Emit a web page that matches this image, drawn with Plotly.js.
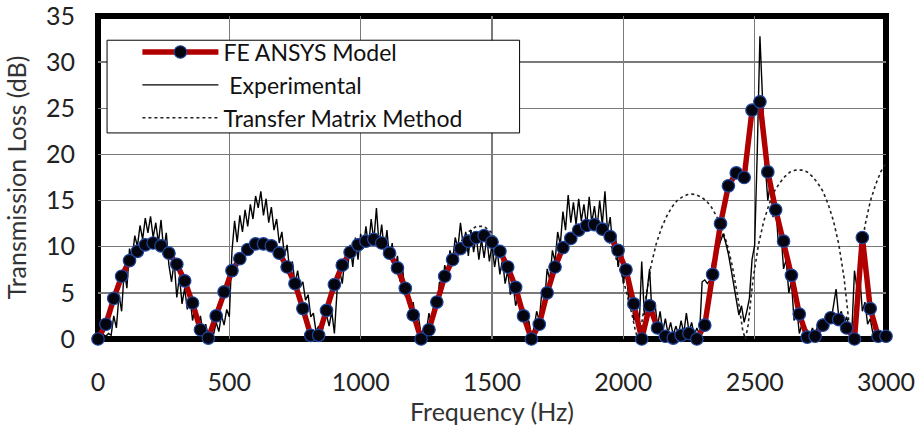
<!DOCTYPE html>
<html>
<head>
<meta charset="utf-8">
<script src="https://cdn.plot.ly/plotly-3.0.1.min.js"></script>
<style>html,body{margin:0;padding:0;background:#fff;}#chart{width:919px;height:436px;}</style>
</head>
<body>
<div id="chart"></div>
<script>
// FE ANSYS Model (Hz, dB)
var feFreq = [0,30,60,90,120,150,180,210,240,270,300,330,360,390,420,450,480,510,540,570,
  600,630,660,690,720,750,780,810,840,870,900,930,960,990,1020,1050,1080,1110,1140,1170,
  1200,1230,1260,1290,1320,1350,1380,1410,1440,1470,1500,1530,1560,1590,1620,1650,1680,1710,1740,1770,
  1800,1830,1860,1890,1920,1950,1980,2010,2040,2070,2100,2130,2160,2190,2220,2250,2280,2310,2340,2370,
  2400,2430,2460,2490,2520,2550,2580,2610,2640,2670,2700,2730,2760,2790,2820,2850,2880,2910,2940,2970,3000];
var feTL = [0,1.6,4.4,6.8,8.5,9.5,10.2,10.4,10.1,9.3,8.1,6.3,3.9,1.0,0.1,2.5,5.1,7.4,8.7,9.7,
  10.3,10.3,10.1,9.3,7.8,6.0,3.3,0.4,0.4,3.1,5.9,8.0,9.4,10.2,10.6,10.8,10.4,9.3,7.7,5.5,
  2.6,0,1.0,4.0,6.8,8.6,9.8,10.6,11.0,11.2,10.5,9.5,7.8,5.6,2.5,0,1.6,5.0,7.8,9.9,
  10.9,11.8,12.3,12.4,11.9,11.1,9.6,7.5,3.8,0,3.6,1.2,0.3,0.1,0.4,0.6,0,1.5,7.0,12.5,
  16.6,18.0,17.5,24.8,25.7,18.1,14.0,10.6,6.9,2.7,0.2,0.3,1.5,2.3,2.1,1.2,0,11.0,3.3,0.3,0.3];

// Experimental (every 10 Hz from 0 Hz)
var expStartHz = 0, expStepHz = 10;
var expTL = [0.2,0.3,0.5,0.3,0.6,0.4,2.5,1.2,4.8,3.0,7.5,5.5,9.8,8.6,11.2,10.0,12.3,10.8,13.1,11.5,
  13.3,11.0,12.6,10.4,12.9,9.6,11.5,8.0,6.2,8.4,4.5,6.8,3.8,5.5,3.2,4.6,2.0,3.6,1.2,2.5,
  0.6,1.6,0.3,1.0,0.5,
  1.8,0.8,2.6,1.5,3.2,2.4,9.5,12.8,10.5,13.4,11.6,14.0,12.2,14.6,13.0,15.5,14.2,16.0,13.4,15.2,
  12.6,14.3,11.8,13.0,10.4,11.6,9.0,10.2,7.2,8.4,6.0,7.4,5.6,6.2,4.2,4.8,2.4,2.8,0.8,1.4,0.4,1.8,
  2.6,1.4,3.0,0.6,5.2,7.4,6.0,8.8,7.6,10.2,7.8,11.0,8.6,11.4,9.8,12.2,10.0,13.0,10.6,14.2,
  10.2,12.4,9.4,11.8,8.6,10.4,7.4,9.0,6.2,7.6,4.6,5.8,3.0,4.0,1.6,2.4,0.5,1.2,
  0.8,2.8,1.6,4.2,3.4,6.2,5.0,8.0,7.0,9.6,8.4,11.0,9.8,12.6,10.2,11.6,9.0,11.8,9.4,11.2,
  8.6,10.8,8.8,11.0,8.4,10.2,7.8,9.6,7.0,8.6,6.0,7.4,4.8,6.0,3.6,4.6,2.4,3.4,1.2,2.0,0.4,1.2,
  3.0,2.0,5.2,4.0,7.6,6.4,9.6,8.4,11.6,10.2,13.8,11.8,15.6,12.6,14.8,12.4,15.2,12.8,14.6,12.2,
  15.4,12.6,14.4,12.0,15.0,12.4,16.0,11.6,13.2,9.8,11.4,7.8,9.6,6.0,7.8,4.4,5.6,2.0,3.2,1.0,
  8.4,2.6,4.8,7.6,2.2,4.0,1.4,3.0,0.8,2.2,0.6,1.8,0.4,1.4,0.5,2.0,0.6,2.8,0.8,1.8,
  0.4,1.2,0.5,6.2,6.4,6.0,6.4,8.4,8.0,9.6,10.6,11.4,10.4,9.2,7.6,6.0,4.4,2.6,3.6,1.8,3.0,
  4.4,8.6,10.2,20.4,32.8,26.0,19.0,15.0,17.0,13.2,14.6,10.4,11.6,7.6,8.6,5.0,6.2,2.0,3.4,0.6,
  1.6,0.3,1.0,0.4,1.2,0.3,1.5,0.8,2.2,1.4,2.8,1.8,3.6,5.4,2.4,3.0,1.6,2.4,1.2,0.8,
  7.4,5.4,6.8,3.0,4.0,1.6,2.2,0.6,1.0,0.4,0.6,0.3,0.4];

// Transfer Matrix Method (Hz, dB)
var tmmFreq = [0,30,60,90,120,150,180,210,240,270,300,330,360,390,420,450,480,510,540,570,
  600,630,660,690,720,750,780,810,840,870,900,930,960,990,1020,1050,1080,1110,1140,1170,
  1200,1230,1260,1290,1320,1350,1380,1410,1440,1470,1500,1530,1560,1590,1620,1650,1680,1710,1740,1770,
  1800,1830,1860,1890,1920,1950,1980,2000,2020,2035,2045,2055,
  2065,2075,2085,2105,2125,2145,2165,2185,2205,2225,2245,2260,2275,2295,2315,2335,2355,2375,2395,2415,2435,2445,2455,2465,
  2475,2485,2495,2515,2535,2555,2575,2595,2615,2635,2655,2680,2700,2720,2740,2760,2780,2800,2820,2840,2850,2860,2870,
  2880,2890,2900,2920,2940,2960,2980,3000];
var tmmTL = [0,1.7,4.6,7.0,8.6,9.6,10.2,10.4,10.2,9.5,8.2,6.4,4.0,1.2,0.2,2.6,5.2,7.4,8.8,9.8,
  10.3,10.4,10.1,9.3,7.9,6.0,3.4,0.6,0.6,3.2,6.0,8.1,9.5,10.3,10.7,10.8,10.4,9.4,7.8,5.6,
  2.7,0.1,1.2,4.2,7.0,9.0,10.5,11.6,12.2,12.2,11.5,10.0,8.0,5.6,2.4,0.2,1.9,5.2,8.0,10.0,
  11.3,12.2,12.6,12.5,11.7,10.3,8.2,6.4,4.2,2.4,1.0,0,
  0.85,2.7,4.7,7.9,10.3,12.0,13.3,14.3,15.0,15.4,15.65,15.7,15.65,15.4,15.0,14.3,13.3,12.0,10.3,7.9,4.7,2.7,0.85,0,
  1.5,4.2,6.7,10.3,12.8,14.6,16.0,16.9,17.6,18.1,18.3,18.3,18.1,17.6,16.9,16.0,14.6,12.8,10.3,6.7,4.2,1.5,0,
  2.2,5.6,8.4,12.3,14.9,16.7,18.1,19.1];

var xTicks = [0,500,1000,1500,2000,2500,3000];
var yTicks = [0,5,10,15,20,25,30,35];

var FONT = 'Lato, "Open Sans", sans-serif';

var traces = [
  {x: tmmFreq, y: tmmTL, type: 'scatter', mode: 'lines', name: 'Transfer Matrix Method',
   legendrank: 3, line: {color: '#222', width: 1.6, dash: '3px,3px'}},
  {x0: expStartHz, dx: expStepHz, y: expTL, type: 'scatter', mode: 'lines', name: ' Experimental',
   legendrank: 2, line: {color: '#000', width: 1.4}},
  {x: feFreq, y: feTL, type: 'scatter', mode: 'lines+markers', name: 'FE ANSYS Model',
   legendrank: 1, cliponaxis: false,
   line: {color: '#b00000', width: 5.5},
   marker: {size: 12.5, color: '#050510', line: {color: '#1f47a0', width: 1.2}}}
];

var layout = {
  width: 919, height: 436,
  margin: {l: 98, r: 33, t: 16, b: 97, pad: 0},
  paper_bgcolor: '#fff', plot_bgcolor: '#fff',
  font: {family: FONT, size: 22, color: '#222'},
  showlegend: true,
  legend: {x: 0.05, y: 0.955, xanchor: 'left', yanchor: 'top', bgcolor: 'rgba(0,0,0,0)',
           borderwidth: 0, itemwidth: 76, font: {family: FONT, size: 23, color: '#111'},
           traceorder: 'normal', tracegroupgap: 0},
  xaxis: {range: [0, 3000], tickvals: xTicks, ticktext: xTicks.map(String), showgrid: true,
          gridcolor: '#7a7a7a', gridwidth: 1.3, zeroline: false, showline: false, ticks: '',
          ticklabelstandoff: 26, ticklabeloverflow: 'allow', tickfont: {size: 25, color: '#222'},
          title: {text: 'Frequency (Hz)', font: {size: 25, color: '#333'}, standoff: 8}},
  yaxis: {range: [0, 35], tickvals: yTicks, ticktext: yTicks.map(String), showgrid: true,
          gridcolor: '#7a7a7a', gridwidth: 1.3, zeroline: false, showline: false, ticks: '',
          ticklabelstandoff: 22, ticklabeloverflow: 'allow', tickfont: {size: 25, color: '#222'},
          title: {text: 'Transmission Loss (dB)', font: {size: 25, color: '#333'}, standoff: 12}},
  shapes: [
    {type: 'rect', xref: 'paper', yref: 'paper', x0: 0, x1: 1, y0: 0, y1: 1,
     line: {color: '#000', width: 6}, layer: 'between'},
    {type: 'rect', xref: 'paper', yref: 'paper', x0: 0.0115, x1: 0.535, y0: 0.638, y1: 0.925,
     line: {color: '#000', width: 1}, fillcolor: '#fff', layer: 'above'}
  ]
};

Plotly.newPlot('chart', traces, layout, {staticPlot: true, displayModeBar: false});
</script>
</body>
</html>
